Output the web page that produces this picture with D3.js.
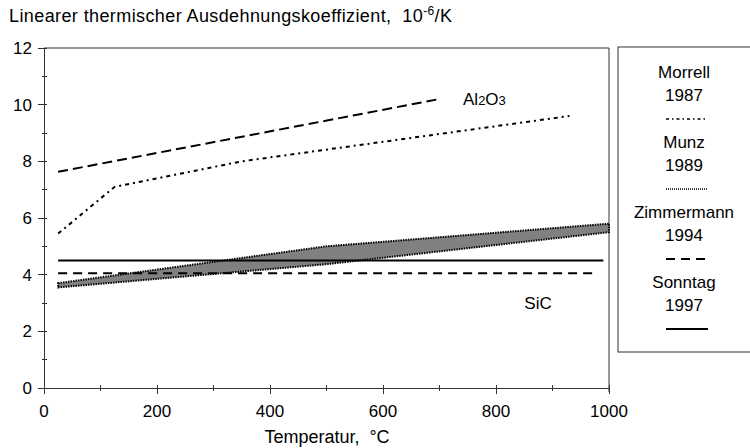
<!DOCTYPE html>
<meta charset="utf-8">
<style>
body { margin: 0; background: #fff; }
svg text { font-family: "Liberation Sans", Arial, sans-serif; fill: #000; white-space: pre; }
.axis path, .axis line { stroke: #333; shape-rendering: crispEdges; }
</style>
<svg width="750" height="448"></svg>
<script src="https://d3js.org/d3.v7.min.js"></script>
<script>

// Al2O3
var tempMorrell = [25, 125, 350, 930],
    alphaMorrell = [5.45, 7.1, 8.0, 9.6];
var tempZimAl = [25, 700],
    alphaZimAl = [7.63, 10.2];

// SiC
var tempMunz = [25, 500, 1000],
    upperMunz = [3.7, 5.0, 5.8],
    lowerMunz = [3.55, 4.37, 5.5];
var tempZimSiC = [25, 975],
    alphaZimSiC = [4.05, 4.05];
var tempSonntag = [25, 990],
    alphaSonntag = [4.5, 4.5];

var xTicks = [0, 200, 400, 600, 800, 1000],
    yTicks = [0, 2, 4, 6, 8, 10, 12];

var legendItems = [
  {name: "Morrell", year: "1987", dash: "3,3,1.5,3", width: 1.5},
  {name: "Munz", year: "1989", dash: "1,1", width: 1.3},
  {name: "Zimmermann", year: "1994", dash: "9,6", width: 2},
  {name: "Sonntag", year: "1997", dash: null, width: 2}
];

var svg = d3.select("svg");

var x = d3.scaleLinear().domain([0, 1000]).range([44, 609]);
var y = d3.scaleLinear().domain([0, 12]).range([388, 48]);

function pts(xs, ys) { return xs.map(function(t, i) { return [t, ys[i]]; }); }

var line = d3.line()
    .x(function(d) { return x(d[0]); })
    .y(function(d) { return y(d[1]); });

// frame (top and right)
svg.append("path")
    .attr("d", "M" + x(0) + "," + y(12) + "H" + x(1000) + "V" + (y(0) + 4))
    .attr("fill", "none")
    .attr("stroke", "#333");

// axes
var xAxis = svg.append("g")
    .attr("class", "axis")
    .attr("transform", "translate(0," + y(0) + ")");
xAxis.append("line").attr("x1", x(0)).attr("x2", x(1000));
xAxis.selectAll(".tk").data(d3.range(0, 1001, 100)).enter().append("line")
    .attr("x1", function(d) { return x(d); })
    .attr("x2", function(d) { return x(d); })
    .attr("y1", -3)
    .attr("y2", function(d) { return d % 200 ? 3 : 6; });
xAxis.selectAll("text").data(xTicks).enter().append("text")
    .attr("x", function(d) { return x(d); })
    .attr("y", 29)
    .attr("text-anchor", "middle")
    .style("font-size", "17px")
    .text(function(d) { return d; });

var yAxis = svg.append("g").attr("class", "axis");
yAxis.append("line").attr("x1", x(0)).attr("x2", x(0)).attr("y1", y(0)).attr("y2", y(12));
yAxis.selectAll(".tk").data(d3.range(0, 12.1, 1)).enter().append("line")
    .attr("y1", function(d) { return y(d); })
    .attr("y2", function(d) { return y(d); })
    .attr("x1", function(d) { return d % 2 ? x(0) - 2 : x(0) - 6; })
    .attr("x2", function(d) { return x(0) + 3; });
yAxis.selectAll("text").data(yTicks).enter().append("text")
    .attr("x", 32)
    .attr("y", function(d) { return y(d) + 6; })
    .attr("text-anchor", "end")
    .style("font-size", "17px")
    .text(function(d) { return d; });

// Munz band
var band = pts(tempMunz, upperMunz).concat(pts(tempMunz, lowerMunz).reverse());
svg.append("path")
    .attr("d", line(band) + "Z")
    .attr("fill", "#808080")
    .attr("stroke", "#000")
    .attr("stroke-width", 2)
    .attr("stroke-dasharray", "1.5,1");

// lines
var series = [
  {d: pts(tempMorrell, alphaMorrell), dash: "4,4,2,4", w: 2},
  {d: pts(tempZimAl, alphaZimAl), dash: "10,5", w: 2},
  {d: pts(tempZimSiC, alphaZimSiC), dash: "9,6", w: 1.8},
  {d: pts(tempSonntag, alphaSonntag), dash: null, w: 2}
];
svg.selectAll(".series").data(series).enter().append("path")
    .attr("d", function(s) { return line(s.d); })
    .attr("fill", "none")
    .attr("stroke", "#000")
    .attr("stroke-width", function(s) { return s.w; })
    .attr("stroke-dasharray", function(s) { return s.dash; });

// material labels
var al = svg.append("text").attr("x", 463).attr("y", 105).style("font-size", "17px");
al.append("tspan").text("Al");
al.append("tspan").style("font-size", "13px").text("2");
al.append("tspan").text("O");
al.append("tspan").style("font-size", "13px").text("3");
svg.append("text").attr("x", 538).attr("y", 309).attr("text-anchor", "middle")
    .style("font-size", "17px").text("SiC");

// titles
var title = svg.append("text").attr("x", 9).attr("y", 22)
    .style("font-size", "18px").style("letter-spacing", "0.4px");
title.append("tspan").text("Linearer thermischer Ausdehnungskoeffizient,  10");
title.append("tspan").attr("dy", -7).style("font-size", "12px").text("-6");
title.append("tspan").attr("dy", 7).text("/K");
svg.append("text").attr("x", 327).attr("y", 443).attr("text-anchor", "middle")
    .style("font-size", "18px").text("Temperatur,  °C");

// legend
svg.append("rect")
    .attr("x", 618).attr("y", 47).attr("width", 150).attr("height", 305)
    .attr("fill", "none").attr("stroke", "#333");
var lg = svg.selectAll(".lg").data(legendItems).enter().append("g")
    .attr("transform", function(d, i) { return "translate(684," + (78 + i * 70) + ")"; });
lg.append("text").attr("text-anchor", "middle").style("font-size", "17px")
    .text(function(d) { return d.name; });
lg.append("text").attr("y", 23).attr("text-anchor", "middle").style("font-size", "17px")
    .text(function(d) { return d.year; });
lg.append("line")
    .attr("x1", -18).attr("x2", 24).attr("y1", 41).attr("y2", 41)
    .attr("stroke", "#000")
    .attr("stroke-width", function(d) { return d.width; })
    .attr("stroke-dasharray", function(d) { return d.dash; });

</script>
